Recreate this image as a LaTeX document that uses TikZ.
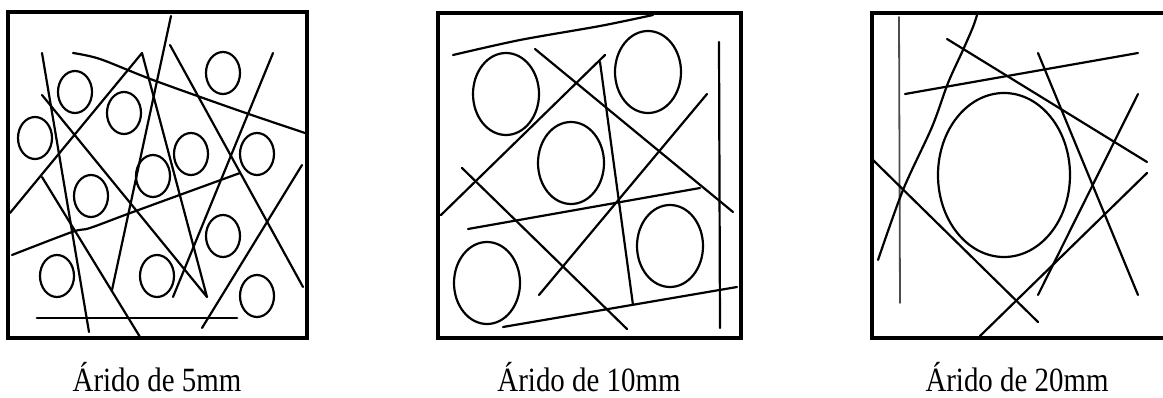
\documentclass[tikz,border=0pt]{standalone}
\usepackage{fontspec}
\setmainfont{Liberation Serif}
\usetikzlibrary{calc}

\begin{document}
\begin{tikzpicture}[x=1pt, y=-1pt,
    mould/.style={draw, line width=4pt},
    fibre/.style={draw, line width=2.2pt, line cap=round, line join=round},
    grain/.style={draw, line width=2.2pt},
    caption/.style={anchor=base, xscale=0.85, inner sep=0pt,
        font=\fontsize{34}{40}\selectfont}]
    \useasboundingbox (0,0) rectangle (1163,398);

    % 5mm
    \draw[mould] (8,12) rectangle (307,338);
    \draw[fibre] (42,53) -- (89,332);
    \draw[fibre] (10,213) -- (142,53) -- (207,297) -- (42,95);
    \draw[fibre] (42,177) -- (140,337);
    \draw[fibre] (171,16) -- (112,290);
    \draw[fibre] plot[smooth] coordinates {(73,53) (100,59) (153,80) (240,111) (305,133)};
    \draw[fibre] (170,45) -- (303,287);
    \draw[fibre] (273,53) -- (173,297);
    \draw[fibre] (302,165) -- (202,328);
    \draw[fibre] plot[smooth] coordinates {(12,255) (72,232) (90,228) (133,212) (240,173)};
    \draw[fibre, line width=2.8pt] (37,318) -- (237,318);
    \foreach \cx/\cy in {75/92, 35/138, 124/113, 223/73, 191/154, 257/154,
                         153/176, 91/196, 223/236, 57/276, 157/276, 257/296}
        \draw[grain] (\cx,\cy) ellipse [x radius=17, y radius=21];
    \node[caption] (lab5) at (157,391) {Árido de 5mm};

    % 10mm
    \draw[mould] (438,13) rectangle (741,338);
    \draw[fibre] plot[smooth] coordinates {(453,55) (520,40) (600,26) (653,15)};
    \draw[fibre] (535,49) -- (733,212);
    \draw[fibre] (605,55) -- (441,215);
    \draw[fibre] (600,62) -- (633,305);
    \draw[fibre] (707,94) -- (539,295);
    \draw[fibre] (462,168) -- (627,329);
    \draw[fibre] (468,229) -- (700,188);
    \draw[fibre] (503,327) -- (737,287);
    \draw[fibre] (719,42) -- (720,328);
    \foreach \cx/\cy in {506/94, 648/72, 571/163, 670/246, 487/283}
        \draw[grain] (\cx,\cy) ellipse [x radius=33, y radius=41];
    \node[caption] (lab10) at (589,391) {Árido de 10mm};

    % 20mm
    \draw[mould] (872,13) rectangle (1170,338);
    \draw[fibre, line width=1.8pt, black!70] (899,17) -- (900,303);
    \draw[fibre] plot[smooth] coordinates {(977,15) (973,27) (963,50) (948,83) (932,127) (903,190) (878,260)};
    \draw[fibre] (947,39) -- (1147,162);
    \draw[fibre] (905,94) -- (1138,53);
    \draw[fibre] (1038,53) -- (1138,295);
    \draw[fibre] (1138,94) -- (1038,295);
    \draw[fibre] (873,160) -- (1038,322);
    \draw[fibre] (1147,173) -- (980,336);
    \draw[grain] (1004,175) ellipse [x radius=66, y radius=82];
    \node[caption] (lab20) at (1017,391) {Árido de 20mm};
\end{tikzpicture}
\end{document}
